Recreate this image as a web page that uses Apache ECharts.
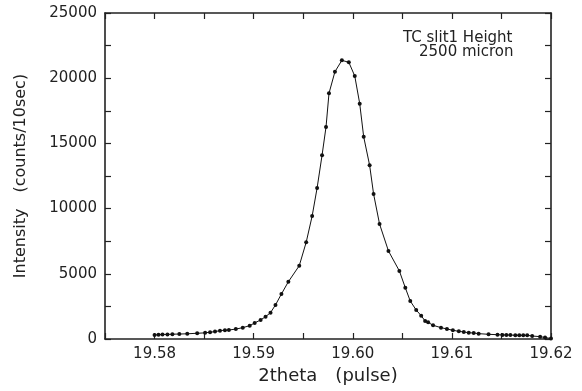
<!DOCTYPE html>
<html>
<head>
<meta charset="utf-8">
<script src="https://cdn.jsdelivr.net/npm/echarts@6/dist/echarts.min.js"></script>
<style>
html,body{margin:0;padding:0;background:#fff;}
#chart{width:582px;height:391px;}
</style>
</head>
<body>
<div id="chart"></div>
<script>
var twoTheta = [
  19.5800, 19.5804, 19.5808, 19.5813, 19.5818, 19.5825, 19.5833, 19.5843, 19.5851, 19.5856,
  19.5861, 19.5866, 19.5871, 19.5875, 19.5882, 19.5889, 19.5896, 19.5901, 19.5907, 19.5912,
  19.5917, 19.5922, 19.5928, 19.5935, 19.5946, 19.5953, 19.5959, 19.5964, 19.5969, 19.5973,
  19.5976, 19.5982, 19.5989, 19.5996, 19.6002, 19.6007, 19.6011, 19.6017, 19.6021, 19.6027,
  19.6036, 19.6047, 19.6053, 19.6058, 19.6064, 19.6069, 19.6073, 19.6076, 19.6081, 19.6089,
  19.6095, 19.6101, 19.6107, 19.6112, 19.6117, 19.6122, 19.6127, 19.6137, 19.6146, 19.6151,
  19.6155, 19.6159, 19.6164, 19.6168, 19.6172, 19.6176, 19.6181, 19.6189, 19.6194, 19.6200
];
var intensity = [
  300, 330, 350, 350, 370, 380, 400, 440, 470, 520,
  570, 640, 680, 690, 760, 870, 1020, 1230, 1460, 1710,
  2020, 2610, 3450, 4390, 5620, 7420, 9430, 11580, 14090, 16260,
  18840, 20500, 21370, 21220, 20170, 18050, 15510, 13320, 11120, 8820,
  6750, 5220, 3930, 2910, 2220, 1790, 1380, 1280, 1050, 870,
  770, 670, 590, 540, 480, 460, 410, 360, 330, 310,
  310, 300, 290, 290, 280, 280, 230, 180, 110, 40
];
var xTitle = '2theta\u3000(pulse)';
var yTitle = 'Intensity\u3000(counts/10sec)';
var noteLines = ['TC slit1 Height', '2500 micron'];

var FONT = 'DejaVu Sans';
var INK = '#222';
var points = twoTheta.map(function (x, i) { return [x, intensity[i]]; });

function axisCommon() {
  return {
    axisLine: { show: true, onZero: false, lineStyle: { color: INK, width: 1.6 } },
    axisTick: { show: true, inside: true, length: 6, lineStyle: { color: INK, width: 1.2 } },
    splitLine: { show: false },
    minorTick: { show: false }
  };
}

var chart = echarts.init(document.getElementById('chart'), null, { renderer: 'canvas' });
var xb = axisCommon(), xt = axisCommon(), yl = axisCommon(), yr = axisCommon();

chart.setOption({
  animation: false,
  backgroundColor: '#fff',
  grid: { left: 105, top: 13, width: 446, height: 326, containLabel: false },
  xAxis: [
    Object.assign(xb, {
      type: 'value', position: 'bottom', min: 19.575, max: 19.62, interval: 0.005,
      name: xTitle, nameLocation: 'middle', nameGap: 27,
      nameTextStyle: { fontFamily: FONT, fontSize: 18, color: INK },
      axisLabel: {
        show: true, margin: 8, fontFamily: FONT, fontSize: 15, color: INK,
        formatter: function (v) {
          var k = Math.round(v * 1000);
          return (k % 10 === 0) ? (k / 1000).toFixed(2) : '';
        }
      }
    }),
    Object.assign(xt, {
      type: 'value', position: 'top', min: 19.575, max: 19.62, interval: 0.005,
      axisLabel: { show: false }
    })
  ],
  yAxis: [
    Object.assign(yl, {
      type: 'value', position: 'left', min: 0, max: 25000, interval: 2500,
      name: yTitle, nameLocation: 'middle', nameGap: 76, nameRotate: 90,
      nameTextStyle: { fontFamily: FONT, fontSize: 16, color: INK },
      axisLabel: {
        show: true, margin: 8, fontFamily: FONT, fontSize: 15, color: INK,
        formatter: function (v) { return (Math.round(v) % 5000 === 0) ? String(Math.round(v)) : ''; }
      }
    }),
    Object.assign(yr, {
      type: 'value', position: 'right', min: 0, max: 25000, interval: 2500,
      axisLabel: { show: false }
    })
  ],
  graphic: [
    { type: 'text', left: 403, top: 31, style: { text: noteLines[0], fontFamily: FONT, fontSize: 15, fill: INK } },
    { type: 'text', left: 419, top: 45, style: { text: noteLines[1], fontFamily: FONT, fontSize: 15, fill: INK } }
  ],
  series: [{
    type: 'line',
    xAxisIndex: 0,
    yAxisIndex: 0,
    data: points,
    symbol: 'circle',
    symbolSize: 4,
    showSymbol: true,
    itemStyle: { color: '#111' },
    lineStyle: { color: '#111', width: 1 },
    smooth: false
  }]
});
</script>
</body>
</html>
